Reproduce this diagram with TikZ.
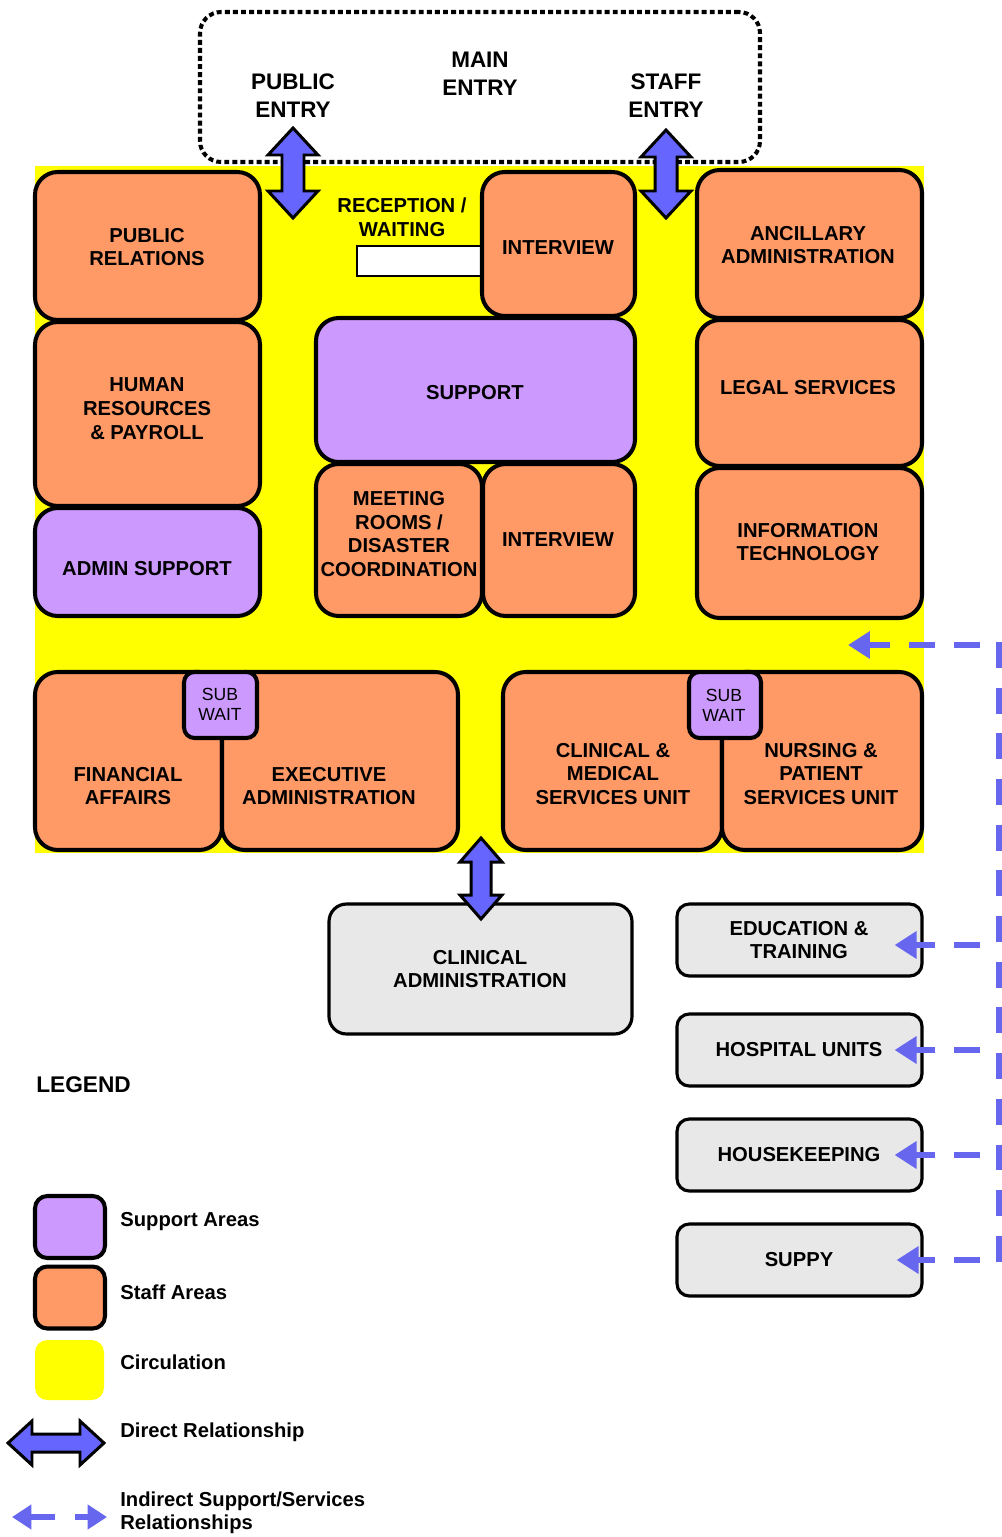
\documentclass[tikz,border=0pt]{standalone}
\usepackage{fontspec}
\setmainfont{Liberation Sans}
\usetikzlibrary{calc,arrows.meta}
\definecolor{staff}{RGB}{255,153,102}
\definecolor{supp}{RGB}{204,153,255}
\definecolor{circ}{RGB}{255,255,0}
\definecolor{ext}{RGB}{232,232,232}
\definecolor{dirblue}{RGB}{102,102,255}
\definecolor{indblue}{RGB}{102,102,238}
\tikzset{
  box/.style={draw=black, line width=2.3pt, rounded corners=13pt, inner sep=0pt},
  staffbox/.style={box, fill=staff},
  suppbox/.style={box, fill=supp},
  extbox/.style={box, fill=ext, line width=1.8pt, rounded corners=10pt},
  extsmall/.style={box, fill=ext, line width=1.8pt, rounded corners=7pt},
  subbox/.style={box, fill=supp, rounded corners=6pt},
  lbl/.style={font=\fontsize{11.5}{13.6}\selectfont\bfseries, align=center, inner sep=0pt},
  sublbl/.style={font=\fontsize{10}{11.5}\selectfont, align=center, inner sep=0pt},
  entrylbl/.style={font=\fontsize{12.8}{15.9}\selectfont\bfseries, align=center, inner sep=0pt},
  legtxt/.style={font=\fontsize{11.5}{13.2}\selectfont\bfseries, align=left, inner sep=0pt, anchor=west},
  entrybox/.style={draw=black, line width=2.3pt, dash pattern=on 2.8pt off 1.8pt, rounded corners=12pt, inner sep=0pt},
  blockarrow/.style={fill=dirblue, draw=black, line width=1.7pt, line join=miter},
  ind/.style={draw=indblue, line width=3.4pt, dash pattern=on 14.7pt off 10.8pt, dash phase=14.7pt,
     -{Triangle[length=12.5pt,width=15pt]}},
  indline/.style={draw=indblue, line width=3pt, dash pattern=on 14.7pt off 11.3pt},
  indsolid/.style={draw=indblue, line width=3.4pt, -{Triangle[length=11pt,width=13.5pt]}},
  swatch/.style={draw=black, line width=2.3pt, rounded corners=7pt, inner sep=0pt,
     minimum width=1.4cm, minimum height=1.24cm}
}
% #1 style, #2 name, #3 x1, #4 y1, #5 x2, #6 y2, #7 tx, #8 ty, #9 text
\newcommand\room[9]{%
  \node[#1, minimum width={(#5-#3)*0.02cm}, minimum height={(#6-#4)*0.02cm}] (#2) at ({(#3+#5)/2},{(#4+#6)/2}) {};
  \node[lbl] (#2t) at (#7,#8) {#9};}
% vertical block double arrow: #1 top coord, #2 bottom coord, #3 half head, #4 half shaft, #5 head length
\newcommand\vdir[5]{%
  \draw[blockarrow] (#1) -- ++(#3,#5) -- ++({-(#3-#4)},0) -- ($(#2)+(#4,-#5)$) -- ++({#3-#4},0) -- (#2)
    -- ++(-#3,-#5) -- ++({#3-#4},0) -- ($(#1)+(-#4,#5)$) -- ++({-(#3-#4)},0) -- cycle;}
% horizontal block double arrow: #1 left coord, #2 right coord
\newcommand\hdir[5]{%
  \draw[blockarrow] (#1) -- ++(#5,-#3) -- ++(0,{#3-#4}) -- ($(#2)+(-#5,-#4)$) -- ++(0,{-(#3-#4)}) -- (#2)
    -- ++(-#5,#3) -- ++(0,{-(#3-#4)}) -- ($(#1)+(#5,#4)$) -- ++(0,{#3-#4}) -- cycle;}
\begin{document}
\begin{tikzpicture}[x=0.02cm,y=-0.02cm]
\useasboundingbox (0,0) rectangle (1001,1537);
\fill[white] (0,0) rectangle (1001,1537);
% circulation
\fill[circ] (35,166) rectangle (924,853);
% entry
\node[entrybox, minimum width={560*0.02cm}, minimum height={150*0.02cm}] (entry) at (480,87) {};
\node[entrylbl] (pubent) at (293,96) {PUBLIC\\ENTRY};
\node[entrylbl] (mainent) at (480,74) {MAIN\\ENTRY};
\node[entrylbl] (stfent) at (666,96) {STAFF\\ENTRY};
% reception
\node[lbl] (recept) at (402,217) {RECEPTION /\\WAITING};
\node[draw=black, fill=white, line width=0.9pt, inner sep=0pt, minimum width={124*0.02cm}, minimum height={30*0.02cm}] (recbox) at (419,261) {};
% rooms
\room{staffbox}{pr}{35}{172}{260}{320}{147}{247}{PUBLIC\\RELATIONS}
\room{staffbox}{hr}{35}{322}{260}{506}{147}{409}{HUMAN\\RESOURCES\\\& PAYROLL}
\room{suppbox}{as}{35}{508}{260}{616}{147}{569}{ADMIN SUPPORT}
\room{staffbox}{intA}{482}{172}{635}{316}{558}{248}{INTERVIEW}
\room{suppbox}{sup}{316}{318}{635}{462}{475}{393}{SUPPORT}
\room{staffbox}{meet}{316}{464}{482}{616}{399}{534}{MEETING\\ROOMS /\\DISASTER\\COORDINATION}
\room{staffbox}{intB}{483}{464}{635}{616}{558}{540}{INTERVIEW}
\room{staffbox}{anc}{697}{170}{922}{318}{808}{245}{ANCILLARY\\ADMINISTRATION}
\room{staffbox}{legal}{697}{320}{922}{466}{808}{388}{LEGAL SERVICES}
\room{staffbox}{it}{697}{468}{922}{618}{808}{542}{INFORMATION\\TECHNOLOGY}
\room{staffbox}{fin}{35}{672}{222}{850}{128}{786}{FINANCIAL\\AFFAIRS}
\room{staffbox}{exec}{222}{672}{458}{850}{329}{786}{EXECUTIVE\\ADMINISTRATION}
\room{staffbox}{clin}{503}{672}{722}{850}{613}{774}{CLINICAL \&\\MEDICAL\\SERVICES UNIT}
\room{staffbox}{nurs}{722}{672}{922}{850}{821}{774}{NURSING \&\\PATIENT\\SERVICES UNIT}
\node[subbox, minimum width={73*0.02cm}, minimum height={66*0.02cm}] (swA) at (220.5,705) {};
\node[sublbl] (swAt) at (220,704) {SUB\\WAIT};
\node[subbox, minimum width={72*0.02cm}, minimum height={66*0.02cm}] (swB) at (725,705) {};
\node[sublbl] (swBt) at (724,705) {SUB\\WAIT};
\room{extbox}{cadm}{329}{904}{632}{1034}{480}{969}{CLINICAL\\ADMINISTRATION}
\room{extsmall}{edu}{677}{904}{922}{976}{799}{940}{EDUCATION \&\\TRAINING}
\room{extsmall}{hosp}{677}{1014}{922}{1086}{799}{1050}{HOSPITAL UNITS}
\room{extsmall}{hk}{677}{1119}{922}{1191}{799}{1155}{HOUSEKEEPING}
\room{extsmall}{sply}{677}{1224}{922}{1296}{799}{1260}{SUPPY}
% direct relationships
\coordinate (pubA) at (293,128); \coordinate (pubB) at (293,218);
\vdir{pubA}{pubB}{25}{11}{27}
\coordinate (stfA) at (666,130); \coordinate (stfB) at (666,218);
\vdir{stfA}{stfB}{25}{11}{27}
\coordinate (caA) at (481,838); \coordinate (caB) at (481,919);
\vdir{caA}{caB}{21}{10}{24}
% indirect relationships
\coordinate (vtop) at (999,642); \coordinate (vbot) at (999,1266);
\draw[indline] (vtop) -- (vbot);
\coordinate (ctgt) at (848,645);
\draw[ind] (vtop |- ctgt) -- (ctgt);
\draw[ind] (vtop |- 0,945) -- ($(edu.east)+(-29,5)$);
\draw[ind] (vtop |- hosp.east) -- ($(hosp.east)+(-29,0)$);
\draw[ind] (vtop |- hk.east) -- ($(hk.east)+(-29,0)$);
\draw[ind] (vtop |- sply.east) -- ($(sply.east)+(-27,0)$);
% legend
\node[font=\fontsize{12.9}{15}\selectfont\bfseries, anchor=west, inner sep=0pt] (legend) at (36,1085) {LEGEND};
\node[swatch, fill=supp] (lgsup) at (70,1227) {};
\node[swatch, fill=staff] (lgstf) at (70,1297.5) {};
\node[fill=circ, rounded corners=7pt, inner sep=0pt, minimum width={69*0.02cm}, minimum height={60*0.02cm}] (lgcirc) at (69.5,1370) {};
\coordinate (ldA) at (8,1443); \coordinate (ldB) at (104,1443);
\hdir{ldA}{ldB}{22}{9}{24}
\coordinate (liA) at (55,1517); \coordinate (liB) at (12,1517);
\coordinate (liC) at (75,1517); \coordinate (liD) at (107,1517);
\draw[indsolid] (liA) -- (liB);
\draw[indsolid] (liC) -- (liD);
\node[legtxt] (lt1) at (120,1222) {Support Areas};
\node[legtxt] (lt2) at (120,1292) {Staff Areas};
\node[legtxt] (lt3) at (120,1362) {Circulation};
\node[legtxt] (lt4) at (120,1432) {Direct Relationship};
\node[legtxt] (lt5) at (120,1513) {Indirect Support/Services\\Relationships};
\end{tikzpicture}
\end{document}
